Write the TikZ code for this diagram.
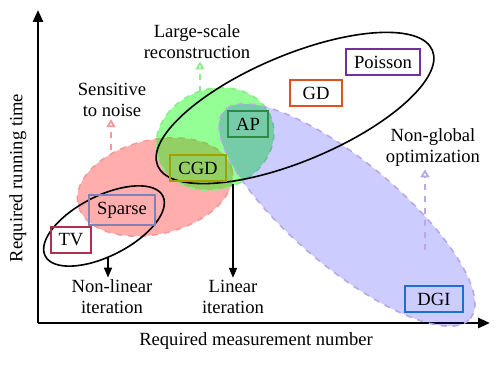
\documentclass[tikz,border=0pt]{standalone}
\usepackage{fontspec}
\setmainfont{Liberation Serif}
\usepackage{xcolor}
\usepackage{tikz}
\usetikzlibrary{arrows.meta}
\definecolor{poissonc}{HTML}{7030A0}
\definecolor{gdc}{HTML}{D9541E}
\definecolor{apc}{HTML}{2E8B46}
\definecolor{cgdc}{HTML}{A0A000}
\definecolor{sparsec}{HTML}{7F82B8}
\definecolor{tvc}{HTML}{B0304E}
\definecolor{dgic}{HTML}{1F6FD0}
\definecolor{redline}{HTML}{F59A9A}
\definecolor{greenline}{HTML}{8AEC8A}
\definecolor{blueline}{HTML}{B8A8E4}

\begin{document}
\begin{tikzpicture}[x=0.5pt,y=0.5pt,
    font=\fontsize{9.3}{10.5}\selectfont,
    method/.style={draw,line width=1pt,inner xsep=4pt,minimum height=12pt},
    note/.style={align=center,inner sep=1pt},
    hint/.style={dashed,line width=0.9pt,-{Triangle[open,length=4pt,width=4.5pt]}}]
  \useasboundingbox (0,0) rectangle (497,368);
  % axes
  \draw[line width=1.3pt,-{Triangle[length=6pt,width=5pt]}] (38,45) -- (38,358);
  \draw[line width=1.3pt,-{Triangle[length=6pt,width=5pt]}] (38,45) -- (490,45);
  \node[rotate=90] (ylab) at (18,190) {Required running time};
  \node (xlab) at (256,27) {Required measurement number};
  % regions
  \filldraw[rotate around={13:(155,181)},fill=red,fill opacity=0.32,draw=redline,dashed,line width=0.8pt]
    (155,181) ellipse (79 and 47);
  \filldraw[rotate around={20:(215,229)},fill=green,fill opacity=0.42,draw=greenline,dashed,line width=0.8pt]
    (215,229) ellipse (60 and 50);
  \filldraw[rotate around={-40:(347,153)},fill=blue,fill opacity=0.2,draw=blueline,dashed,line width=0.8pt]
    (347,153) ellipse (161 and 53);
  \draw[line width=0.8pt,rotate around={22.8:(295,260)}] (295,260) ellipse (149 and 53);
  \draw[line width=0.8pt,rotate around={27:(104,142)}] (104,142) ellipse (66 and 30);
  % methods
  \node[method,draw=poissonc] (poisson) at (383,306) {Poisson};
  \node[method,draw=gdc,minimum width=26pt] (gd) at (316,275) {GD};
  \node[method,draw=apc] (ap) at (248,244) {AP};
  \node[method,draw=cgdc] (cgd) at (198,200) {CGD};
  \node[method,draw=sparsec] (sparse) at (122,158) {Sparse};
  \node[method,draw=tvc] (tv) at (71,128) {TV};
  \node[method,draw=dgic,minimum width=29pt] (dgi) at (434,69) {DGI};
  % notes
  \node[note] (large) at (197,326) {Large-scale\\reconstruction};
  \node[note] (noise) at (112,268) {Sensitive\\to noise};
  \node[note] (nonglobal) at (433,220) {Non-global\\optimization};
  \node[note] (nonlin) at (112,71) {Non-linear\\iteration};
  \node[note] (lin) at (233,71) {Linear\\iteration};
  % arrows
  \coordinate (redtop) at (111,218);
  \coordinate (greentop) at (200,276);
  \coordinate (bluein) at (425,118);
  \coordinate (tvbot) at (108,111);
  \coordinate (bigbot) at (233,184);
  \draw[hint,redline] (redtop) -- (redtop |- noise.south);
  \draw[hint,greenline] (greentop) -- (greentop |- large.south);
  \draw[hint,blueline] (bluein) -- (bluein |- nonglobal.south);
  \draw[line width=0.8pt,-{Triangle[length=5pt,width=4pt]}] (tvbot) -- (tvbot |- nonlin.north);
  \draw[line width=0.8pt,-{Triangle[length=5pt,width=4pt]}] (bigbot) -- (bigbot |- lin.north);
\end{tikzpicture}
\end{document}
